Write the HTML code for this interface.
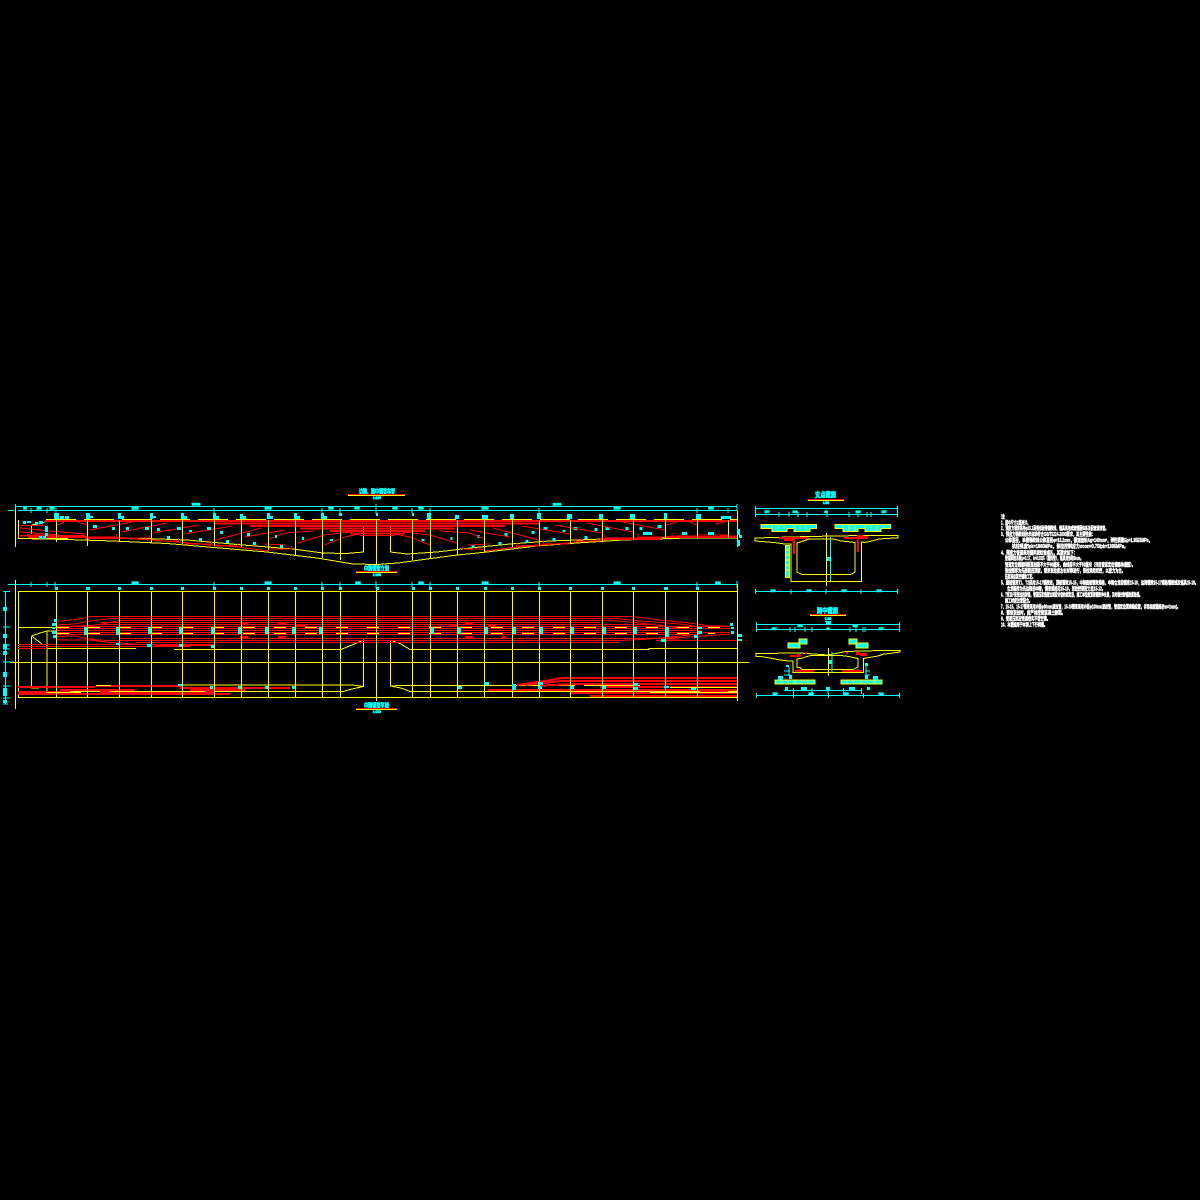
<!DOCTYPE html>
<html><head><meta charset="utf-8"><style>
html,body{margin:0;padding:0;background:#000;width:1200px;height:1200px;overflow:hidden}
svg{display:block}
.y{fill:none;stroke:#ff0;stroke-width:1}
.r{fill:none;stroke:#f00;stroke-width:1}
.r2{fill:none;stroke:#f00;stroke-width:2}
.c{fill:none;stroke:#0ff;stroke-width:1}
.f{fill:#0ff;stroke:none}
text{font-family:"Liberation Sans","Noto Sans CJK SC",sans-serif}
.d{font-size:3.2px;font-weight:700;fill:#0ff;stroke:#0ff;stroke-width:.6;text-anchor:middle}
.t{font-size:7px;font-weight:700;fill:#0ff;stroke:#0ff;stroke-width:.6}
.n{font-size:5px;font-weight:700;fill:#fff;stroke:#fff;stroke-width:.45}
</style></head><body>
<svg xmlns="http://www.w3.org/2000/svg" xmlns:xlink="http://www.w3.org/1999/xlink" width="1200" height="1200" viewBox="0 0 1200 1200" shape-rendering="crispEdges">
<rect width="1200" height="1200" fill="#000"/>
<defs>
<g id="ten">
<path class="r" d="M395 534L410 537L430 545M403 532L430 535L457 543M440 531L470 533L485 539M470 530L510 537M493 528L539 540M522 526L570 534M555 525L602 533M587 523L633 532M622 522L665 530M677 522L667 525M690 522L697 525M725 522L715 524"/>
<path class="r" d="M463 546V549H485M468 545L490 544M517 543V546H540M516 546L540 545M543 541V544H570M576 538V541H600M605 535V538H632M638 534V537H665M672 533V536H697M698 533V535H728M485 551L517 547L543 545L577 542L603 540L637 538L670 537L737 536"/>
<g class="f">
<rect x="93" y="525" width="4" height="3"/><rect x="112" y="527" width="3" height="3"/><rect x="126" y="527" width="3" height="3"/><rect x="145" y="527" width="4" height="3"/><rect x="157" y="528" width="3" height="3"/><rect x="177" y="527" width="4" height="3"/><rect x="189" y="530" width="3" height="2"/><rect x="207" y="527" width="4" height="3"/><rect x="220" y="531" width="3" height="3"/><rect x="247" y="533" width="3" height="3"/><rect x="275" y="535" width="2" height="3"/><rect x="302" y="537" width="2" height="3"/><rect x="330" y="539" width="3" height="2"/>
<rect x="167" y="536" width="3" height="3"/><rect x="199" y="538" width="3" height="3"/><rect x="226" y="540" width="3" height="3"/><rect x="253" y="542" width="3" height="3"/><rect x="280" y="545" width="3" height="3"/>
</g>
</g>
</defs>

<!-- ELEVATION -->
<path class="c" d="M15 506.5H737M18 510.5H737M15.5 504V511M737 504V511M8 510.5H14"/>
<path class="c" d="M31 508V513M47 508V513M56 508V513M214 508V513M322 508V513M340 508V513M376 504V514M412 508V513M430 508V513M539 508V513M697 508V513M728 508V513"/>
<path class="y" d="M15.5 510V547M737.5 511V547"/>
<path class="y" d="M18.5 520V538.5H68M31.5 525V534M31.5 525L45 522"/>
<path class="y" d="M20 538.5L67 539.5L113 541L167 543.5L220 548L267 552L317 558L353 564L377 564.5L398 563L453 555.5L487 552L537 546L577 543L623 540L687 538L737 538"/>
<path class="y" d="M363.5 526V552L346 553.5L323 553L293 549L243 545L187 540L130 538L68 537M390.5 526V552L407 554L437 552L470 548L510 544L550 541L603 539L665 537.5L737 536.5"/>
<use xlink:href="#ten" transform="translate(754.5,0) scale(-1,1)"/>
<use xlink:href="#ten"/>
<path class="r2" d="M215 523.5H540M250 526H505M300 528.5H455M330 531H425M350 533.5H405"/>
<path class="r" d="M360 535.5H395M20 525.5H45M20 528L50 531L85 534M20 532L60 535M20 535.5H85"/>
<path fill="#f00" d="M45 520h692v2H45zM28 536h60v2H28zM85 537h40v2H85zM665 536h72v2h-72zM600 538h60v2h-60z"/>
<path stroke="#ff0" stroke-width="1" stroke-dasharray="30 8" fill="none" d="M46 519.5H737"/>
<path class="y" d="M56.5 520V542M87.5 520V546M119.5 520V541M151.5 520V543M182.5 520V544M214.5 520V546M241.5 520V547M268.5 520V550M295.5 520V555M322.5 520V558M340.5 520V560M376.5 520V565M412.5 520V560M430.5 520V558M457.5 520V555M484.5 520V552M512.5 520V547M539.5 520V546M570.5 520V544M602.5 520V541M633.5 520V540M665.5 520V538M697.5 520V538M728.5 520V538"/>
<path class="y" d="M737.5 520V547"/>
<g class="f">
<rect x="54" y="513" width="5" height="6"/><rect x="60" y="516" width="4" height="3"/><rect x="65" y="516" width="4" height="3"/>
<rect x="86" y="513" width="4" height="6"/><rect x="90" y="516" width="3" height="2"/>
<rect x="118" y="513" width="3" height="6"/><rect x="121" y="516" width="3" height="3"/>
<rect x="150" y="513" width="3" height="6"/><rect x="153" y="516" width="3" height="2"/>
<rect x="181" y="513" width="3" height="6"/><rect x="184" y="516" width="3" height="3"/>
<rect x="213" y="513" width="3" height="6"/><rect x="216" y="516" width="3" height="3"/>
<rect x="240" y="514" width="3" height="5"/><rect x="243" y="516" width="3" height="3"/>
<rect x="267" y="513" width="3" height="6"/><rect x="270" y="516" width="3" height="3"/>
<rect x="294" y="513" width="3" height="6"/><rect x="297" y="516" width="3" height="3"/>
<rect x="321" y="513" width="3" height="6"/><rect x="324" y="516" width="3" height="3"/>
<rect x="339" y="513" width="3" height="3"/><rect x="376" y="513" width="2" height="3"/>
<rect x="412" y="513" width="2" height="3"/><rect x="427" y="513" width="4" height="6"/>
<rect x="455" y="515" width="4" height="4"/><rect x="482" y="515" width="6" height="4"/>
<rect x="510" y="514" width="4" height="5"/><rect x="537" y="513" width="4" height="6"/>
<rect x="567" y="514" width="5" height="5"/><rect x="599" y="514" width="4" height="5"/>
<rect x="630" y="514" width="5" height="5"/><rect x="664" y="513" width="3" height="6"/>
<rect x="696" y="514" width="5" height="5"/><rect x="721" y="516" width="10" height="3"/>
<rect x="23" y="521" width="3" height="3"/><rect x="27" y="521" width="4" height="2"/><rect x="39" y="521" width="4" height="3"/><rect x="35" y="522" width="3" height="3"/>
<rect x="45" y="526" width="3" height="6"/><rect x="45" y="533" width="3" height="3"/><rect x="39" y="536" width="3" height="3"/><rect x="43" y="536" width="3" height="3"/>
<rect x="737" y="529" width="3" height="6"/><rect x="739" y="535" width="3" height="3"/><rect x="737" y="540" width="3" height="6"/>
<rect x="643" y="532" width="9" height="3"/><rect x="682" y="532" width="5" height="3"/><rect x="708" y="532" width="6" height="3"/>
</g>
<text class="d" x="196" y="505.5">20000</text><text class="d" x="557" y="505.5">20000</text>
<text class="d" x="25" y="509.5">60</text><text class="d" x="39" y="509.5">100</text><text class="d" x="52" y="509.5">100</text><text class="d" x="135" y="509.5">1600</text><text class="d" x="268" y="509.5">1600</text><text class="d" x="331" y="509.5">300</text><text class="d" x="357" y="509.5">600</text><text class="d" x="395" y="509.5">600</text><text class="d" x="421" y="509.5">300</text><text class="d" x="485" y="509.5">1600</text><text class="d" x="617" y="509.5">1600</text><text class="d" x="711" y="509.5">500</text>

<text class="t" x="359" y="494" textLength="36" lengthAdjust="spacingAndGlyphs">边跨、跨中钢束布置</text>
<path stroke="#f00" fill="none" d="M348 494.5H405"/><path class="y" d="M348 495.5H405"/>
<text class="d" x="377" y="499">1:100</text>
<text class="t" x="364" y="571" textLength="25" lengthAdjust="spacingAndGlyphs">中跨钢束立面</text>
<path stroke="#f00" fill="none" d="M356 571.5H397"/><path class="y" d="M356 572.5H397"/>
<text class="d" x="377" y="576">1:100</text>

<!-- PLAN -->
<path class="c" d="M8 584.5H737M55 582V587M31 582V587M47 582V587M214 582V587M322 582V587M340 582V587M376 581V588M412 582V587M430 582V587M539 582V587M697 582V587M737 581V588"/>
<path class="c" d="M5.5 591V704M3 591.5H10M3 627H10M3 645H10M3 649H10M3 662H14M3 686H10M3 698H10M3 704H8"/>
<path class="y" d="M15.5 580V709"/>
<path class="y" d="M18.5 591.5H737.5V697.5H18.5ZM10 662.5H749"/>
<path class="y" d="M18.5 627.5H56M31.5 636L40 633L47 631L56 631M31.5 636L42 644M31.5 636V688H38L47 686M47 631V691"/>
<path class="y" d="M174 649.5H341L352 645L363.5 640V686.5L352 685H180M363.5 686.5L352 689L343 691.5H46"/>
<path class="y" d="M390.5 640V686L401 688L410 691.5H737.5M390.5 640L401 644L410 649.5H649V648.5H737.5M390.5 686L401 685.5H575"/>
<!-- red upper band -->
<path class="r" d="M56 621.5L67 620.5L75 619.5L82 618.5L90 616.5H633L660 620L690 623L710 626H728
M56 625L75 624L84 622L97 620L112 618.5H616L640 621L680 624L700 627
M56 627L97 625L120 620.5H610L640 623L665 626L685 629
M100 622.5H600M97 624.5H650
M56 630.5H700M56 632.5H730M56 634.5H700
M56 636.5L75 636L84 638L97 640L112 640.5H620L650 639L670 637L690 635
M56 640L90 640L110 642.5L136 644M120 638.5H660L690 637L730 634
M136 642.5H620"/>
<path fill="#f00" d="M240 622h8v2h-8zM278 622h8v3h-8zM296 624h10v2h-10zM465 622h8v2h-8zM449 624h8v2h-8zM488 625h8v2h-8zM240 636h8v2h-8zM278 636h8v3h-8zM465 636h8v3h-8zM502 636h4v3h-4z"/>
<!-- yellow dashed -->
<path fill="none" stroke="#f00" d="M57 628.5H730M57 626.5H730"/>
<path fill="none" stroke="#ff0" stroke-dasharray="12 19" d="M57 627.5H732M57 633.5H715"/>
<!-- left extension -->
<path class="r" d="M18 644.5H215M18 646.5H190M18 648.5H136M155 645.5H215"/>
<path class="y" d="M47 648.5H136"/>
<!-- right extension -->
<path class="r" d="M656 640.5H737.5M665 639H680"/>
<!-- bottom left block -->
<path class="r2" d="M18 687H95M96 686H183M60 690H135M18 692H70M18 694H230M100 692H215M180 688H290M190 690H245"/>
<path fill="#f00" d="M67 692h14v2H67zM103 693h31v1.5h-31zM195 687h17v2h-17z"/>
<path class="y" d="M110 691.5H205M46 692.5H81M96 685.5H111"/>
<!-- bottom right block -->
<path class="r2" d="M517 685L545 681L562 678H737.5M525 685L562 681H737.5M540 685.5L578 684H737.5M600 687H737.5M488 690H737.5M570 693H737.5M590 696H737.5"/>
<path fill="#f00" d="M700 689h28v3h-28zM630 692h40v1h-40zM715 692h8v2h-8z"/>
<path class="y" d="M650 692.5H737M670 687.5H737M584 685.5H640"/>
<!-- plan verticals -->
<path class="y" d="M56.5 591V697M87.5 591V697M119.5 591V697M151.5 591V697M182.5 591V697M214.5 591V697M241.5 591V697M268.5 591V697M295.5 591V697M322.5 591V697M340.5 591V697M376.5 587V701M412.5 591V697M430.5 591V697M457.5 591V697M484.5 591V697M512.5 591V697M539.5 591V697M570.5 591V697M602.5 591V697M633.5 591V697M665.5 591V697M697.5 591V697"/>
<path class="y" d="M737.5 584V701"/>
<g class="f">
<rect x="55" y="587" width="3" height="3"/><rect x="86" y="587" width="4" height="3"/><rect x="118" y="587" width="3" height="3"/><rect x="150" y="587" width="3" height="3"/><rect x="181" y="587" width="3" height="3"/><rect x="213" y="587" width="3" height="3"/><rect x="240" y="587" width="3" height="3"/><rect x="267" y="587" width="3" height="3"/><rect x="294" y="587" width="3" height="3"/><rect x="321" y="587" width="3" height="3"/><rect x="339" y="587" width="3" height="3"/><rect x="376" y="587" width="3" height="3"/><rect x="412" y="587" width="3" height="3"/><rect x="429" y="587" width="3" height="3"/><rect x="456" y="587" width="3" height="3"/><rect x="484" y="587" width="3" height="3"/><rect x="511" y="587" width="3" height="3"/><rect x="538" y="587" width="3" height="3"/><rect x="569" y="587" width="3" height="3"/><rect x="601" y="587" width="3" height="3"/><rect x="632" y="587" width="3" height="3"/><rect x="664" y="587" width="4" height="3"/><rect x="696" y="587" width="3" height="3"/>
<rect x="54" y="619" width="3" height="3"/><rect x="52" y="623" width="4" height="3"/><rect x="52" y="627" width="3" height="2"/><rect x="52" y="631" width="4" height="3"/><rect x="53" y="635" width="3" height="3"/>
<rect x="84" y="627" width="3" height="8"/><rect x="116" y="627" width="3" height="8"/><rect x="148" y="627" width="3" height="7"/><rect x="179" y="627" width="3" height="7"/><rect x="211" y="627" width="3" height="7"/><rect x="238" y="627" width="3" height="7"/><rect x="265" y="627" width="3" height="7"/><rect x="292" y="627" width="3" height="7"/><rect x="319" y="627" width="3" height="7"/>
<rect x="431" y="627" width="3" height="7"/><rect x="458" y="627" width="3" height="7"/><rect x="485" y="627" width="3" height="7"/><rect x="513" y="627" width="3" height="7"/><rect x="540" y="627" width="3" height="7"/><rect x="571" y="627" width="3" height="7"/><rect x="603" y="627" width="3" height="7"/><rect x="634" y="627" width="3" height="7"/><rect x="666" y="627" width="3" height="10"/><rect x="698" y="627" width="4" height="2"/><rect x="698" y="631" width="4" height="3"/><rect x="730" y="623" width="3" height="3"/><rect x="731" y="627" width="3" height="2"/><rect x="731" y="631" width="3" height="3"/>
<rect x="116" y="643" width="4" height="2"/><rect x="147" y="644" width="5" height="3"/><rect x="179" y="644" width="3" height="3"/><rect x="211" y="645" width="3" height="3"/>
<rect x="178" y="684" width="4" height="2"/><rect x="210" y="686" width="3" height="3"/><rect x="238" y="686" width="3" height="3"/><rect x="265" y="686" width="3" height="3"/><rect x="292" y="686" width="3" height="3"/>
<rect x="458" y="686" width="4" height="3"/><rect x="484" y="682" width="5" height="3"/><rect x="512" y="684" width="4" height="3"/><rect x="512" y="687" width="4" height="3"/><rect x="538" y="682" width="5" height="3"/><rect x="538" y="686" width="4" height="3"/><rect x="570" y="686" width="4" height="3"/><rect x="602" y="686" width="4" height="3"/><rect x="634" y="683" width="4" height="3"/><rect x="634" y="687" width="4" height="3"/><rect x="664" y="686" width="5" height="2"/><rect x="691" y="688" width="5" height="2"/>
<rect x="661" y="639" width="4" height="3"/><rect x="694" y="635" width="4" height="3"/><rect x="738" y="634" width="4" height="3"/><rect x="738" y="639" width="4" height="2"/>
<rect x="3" y="607" width="4" height="4"/><rect x="3" y="634" width="4" height="4"/><rect x="3" y="644" width="4" height="5"/><rect x="3" y="651" width="4" height="4"/><rect x="3" y="672" width="4" height="5"/><rect x="3" y="688" width="4" height="8"/><rect x="3" y="700" width="4" height="3"/>
</g>
<text class="d" x="135" y="584">1600</text><text class="d" x="268" y="584">1600</text><text class="d" x="358" y="584">600</text><text class="d" x="421" y="584">300</text><text class="d" x="485" y="584">1600</text><text class="d" x="617" y="584">1600</text><text class="d" x="718" y="584">500</text>
<text class="t" x="364" y="708" textLength="25" lengthAdjust="spacingAndGlyphs">中跨钢束平面</text>
<path stroke="#f00" fill="none" d="M356 708.5H397"/><path class="y" d="M356 709.5H397"/>
<text class="d" x="377" y="713">1:100</text>

<!-- SECTION A -->
<text class="t" x="815" y="497" textLength="21" lengthAdjust="spacingAndGlyphs">支点截面</text>
<path stroke="#f00" fill="none" d="M808 499.5H844"/><path class="y" d="M808 500.5H844"/>
<text class="d" x="826" y="504">1:50</text>
<path class="c" d="M755.5 508.5H897M755.5 514.5H897M755.5 591.5H897M755.5 506V517M897.5 506V517M755.5 589V594M897.5 589V594M779 512V517M789 512V517M798 512V517M807 512V517M827 512V517M849 512V517M858 512V517M867 512V517M871 512V517M791 589V594M826 589V594M861 589V594"/>
<text class="d" x="767" y="513">157</text><text class="d" x="795" y="513">108</text><text class="d" x="826" y="513">40</text><text class="d" x="858" y="513">108</text><text class="d" x="884" y="513">157</text>
<text class="d" x="773" y="592">100</text><text class="d" x="809" y="592">350</text><text class="d" x="844" y="592">350</text><text class="d" x="879" y="592">100</text>
<path d="M761 524.5H816.5V528.5H810V531.5H794V528.5H787V531.5H772V528.5H761ZM835 524.5H890.5V528.5H881V531.5H865V528.5H858V531.5H843V528.5H835Z" fill="#0ff" stroke="#ff0"/>
<path class="y" d="M766 524.5V528.5M772 524.5V531.5M778 524.5V531.5M784 524.5V528.5M794 524.5V531.5M800 524.5V531.5M806 524.5V531.5M843 524.5V531.5M849 524.5V531.5M855 524.5V531.5M865 524.5V531.5M871 524.5V531.5M877 524.5V531.5M884 524.5V528.5"/>
<path class="y" d="M755 538V541L762 541.5L774 542.5L785 544H791V581.5H861.5V542L865 542.5L872 541L879 539L887 538.5L894 538L898 538V535.5L862 535.5L809 536.5L773 537.5Z"/>
<path class="y" d="M797 543V572L800 573.5L802 574.5H850L853 573.5L855 572V542.5L847 541.5L841 541L834 539H809L803 541L797 543Z"/>
<path class="y" d="M826.5 533V586"/><path class="c" d="M830.5 537V581"/>
<rect x="827" y="557" width="3" height="4" fill="#0ff"/>
<path fill="#f00" d="M779 537h29v2h-29zM784 539h9v2h-9zM793 539h2v15h-2zM844 537h24v2h-24zM857 535h6v3h-6zM857 539h2v13h-2zM862 536h6v2h-6z"/>
<rect x="785.5" y="545.5" width="4" height="32" fill="#0ff" stroke="#ff0"/>
<path class="y" d="M785.5 550H789.5M785.5 555H789.5M785.5 560H789.5M785.5 565H789.5M785.5 570H789.5"/>

<!-- SECTION B -->
<text class="t" x="817" y="613" textLength="21" lengthAdjust="spacingAndGlyphs">跨中截面</text>
<path stroke="#f00" fill="none" d="M810 614.5H846"/><path class="y" d="M810 615.5H846"/>
<text class="d" x="828" y="620">1:50</text>
<path class="c" d="M756.5 624.5H899M756.5 629.5H899M756.5 622V632M899.5 622V632M790 627V632M795 627V632M805 627V632M812 627V632M850 627V632M856 627V632M863 627V632M865 627V632"/>
<path class="f" d="M826 622h5v2h-5zM825 621h6v1h-6z"/>
<text class="d" x="774" y="630">157</text><text class="d" x="800" y="627">108</text><text class="d" x="828" y="630">40</text><text class="d" x="855" y="627">108</text><text class="d" x="881" y="630">157</text>
<path class="y" d="M756 653.5V656.5L761 656.5L770 658L780 660L789 661H793V672.5H863.5V658.5L866 658L872 657L878 656L884 654L890 653.5L896 652.5L900 652V650.5H882L846 651.5L828 655L800 653L756 653.5Z"/>
<path class="y" d="M797 659V667.5L800 667.5L802 669.5H853L856 668L858 667V658.5L853 657.5L849 656.5L845 656L841 655.5H811L807 656.5L803 658Z"/>
<path class="y" d="M828.5 648V676"/>
<path class="c" d="M832 652V673M789 667V676M866 665V676M784 671H790M865 671H870M784 675H790M865 675H870"/>
<rect x="829" y="660" width="3" height="4" fill="#0ff"/>
<path fill="#f00" d="M795 670h19v2h-19zM842 670h20v2h-20zM790 655h6v2h-6zM797 654h4v3h-4zM805 652h2v2h-2zM856 652h4v3h-4zM846 652h2v2h-2zM860 653h7v3h-7z"/>
<path fill="#f00" d="M798 669h2v2h-2zM857 669h2v2h-2z"/>
<path d="M788 643H800V648H788ZM799 639H807V644H799ZM849 639H857V644H849ZM856 643H868V648H856Z" fill="#0ff" stroke="#ff0"/>
<path d="M775 680H815V684H775ZM841 680H882V684H841Z" fill="#0ff" stroke="#ff0"/>
<path class="y" d="M781 680V684M788 680V684M795 680V684M802 680V684M808 680V684M847 680V684M854 680V684M861 680V684M868 680V684M875 680V684"/>
<path class="f" d="M778 676h5v4h-5zM873 676h5v4h-5zM789 675h3v4h-3zM865 675h3v4h-3zM865 663h3v3h-3zM786 665h3v2h-3z"/>
<path class="c" d="M784 690.5H862M793.5 688V694M812 688V694M828 688V694M843.5 688V694M861.5 688V694"/>
<path class="f" d="M785 687h3v3h-3zM801 687h6v3h-6zM826 687h4v3h-4zM849 687h6v3h-6zM867 687h3v3h-3z"/>
<path class="c" d="M756.5 695.5H899M756.5 693V698M899.5 693V698M793.5 693V698M828.5 693V698M863.5 693V698"/>
<text class="d" x="775" y="695">180</text><text class="d" x="811" y="695">350</text><text class="d" x="846" y="695">350</text><text class="d" x="881" y="695">180</text>

<!-- NOTES -->
<g shape-rendering="auto">
<text class="n" x="1001" y="518.5" textLength="4" lengthAdjust="spacingAndGlyphs">注</text>
<text class="n" x="1001" y="524.5" textLength="29" lengthAdjust="spacingAndGlyphs">1、图中尺寸以厘米计。</text>
<text class="n" x="1001" y="530" textLength="107" lengthAdjust="spacingAndGlyphs">2、预应力钢束采用φ15.2高强低松弛钢绞线，锚具采用成套锚固体系及配套波纹管。</text>
<text class="n" x="1001" y="536" textLength="94" lengthAdjust="spacingAndGlyphs">3、预应力钢绞线技术标准符合GB/T5224-2003要求，其主要性能：</text>
<text class="n" x="1005" y="542" textLength="147" lengthAdjust="spacingAndGlyphs">公称直径，单根钢绞线公称直径φ=15.2mm，截面面积Ag=140mm²，弹性模量Ep=1.95E5MPa，</text>
<text class="n" x="1012" y="548" textLength="116" lengthAdjust="spacingAndGlyphs">抗拉强度fpk=1860MPa，张拉控制应力σcon=0.75fpk=1395MPa。</text>
<text class="n" x="1001" y="554.5" textLength="76" lengthAdjust="spacingAndGlyphs">4、预应力管道采用塑料波纹管成孔，其要求如下：</text>
<text class="n" x="1005" y="560" textLength="78" lengthAdjust="spacingAndGlyphs">管道摩阻系数μ=0.17，k=0.0015（塑料管），锚具变形取6mm。</text>
<text class="n" x="1005" y="566.5" textLength="130" lengthAdjust="spacingAndGlyphs">管道定位钢筋间距直线段不大于80厘米，曲线段不大于50厘米（详见管道定位钢筋构造图）。</text>
<text class="n" x="1005" y="572.5" textLength="120" lengthAdjust="spacingAndGlyphs">张拉顺序为先腹板后顶板，钢束张拉应左右对称进行，张拉采用双控，以应力为主。</text>
<text class="n" x="1005" y="578.5" textLength="30" lengthAdjust="spacingAndGlyphs">压浆采用真空辅助工艺。</text>
<text class="n" x="1001" y="584.5" textLength="197" lengthAdjust="spacingAndGlyphs">5、腹板钢束T1、T2采用15-17钢绞线，顶板钢束15-15，中跨底板钢束规格，中跨合龙段钢束15-19，边跨钢束15-17规格钢绞线及锚具15-19。</text>
<text class="n" x="1007" y="590.5" textLength="98" lengthAdjust="spacingAndGlyphs">合龙顺序为先边跨后中跨，钢束规格见15-19，张拉控制应力见15-12。</text>
<text class="n" x="1001" y="596.5" textLength="141" lengthAdjust="spacingAndGlyphs">6、T束及F束张拉后封锚，管道压浆强度达到设计值的规定后，施工单位应复核钢束伸长量，及时做好封锚防腐处理。</text>
<text class="n" x="1005" y="602.5" textLength="27" lengthAdjust="spacingAndGlyphs">施工时应注意配合。</text>
<text class="n" x="1001" y="608.5" textLength="179" lengthAdjust="spacingAndGlyphs">7、15-15、15-17钢束采用内径φ90mm波纹管，15-19钢束采用内径φ100mm波纹管，管道定位须准确设置，详见相应图纸(Bm=1mm)。</text>
<text class="n" x="1001" y="614.5" textLength="64" lengthAdjust="spacingAndGlyphs">8、钢束张拉时，应严格控制混凝土龄期。</text>
<text class="n" x="1001" y="620.5" textLength="49" lengthAdjust="spacingAndGlyphs">9、管道压浆应饱满密实不留空隙。</text>
<text class="n" x="1001" y="626.5" textLength="46" lengthAdjust="spacingAndGlyphs">10、本图适用于本桥上下行两幅。</text>
</g>
</svg>
</body></html>
